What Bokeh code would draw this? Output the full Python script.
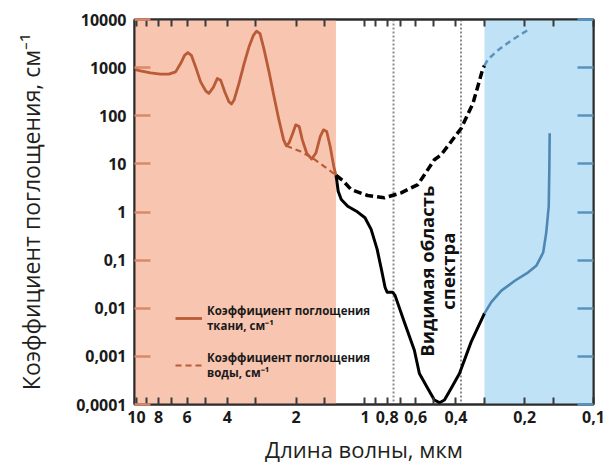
import math
import numpy as np
from bokeh.plotting import figure
from bokeh.models import (Range1d, LogAxis, FixedTicker, BoxAnnotation, Span,
                          Label, Legend, LegendItem)
from bokeh.embed import file_html
from bokeh.resources import INLINE

# ---------------- data (wavelength in µm, absorption coefficient in cm^-1) -------------
TISSUE_WL = [10.1, 9.6, 8.68, 7.85, 7.22, 6.74, 6.41, 6.16, 5.96, 5.75, 5.51, 5.24, 4.98,
             4.82, 4.61, 4.43, 4.28, 4.11, 3.94, 3.84, 3.74, 3.56, 3.38, 3.22, 3.08, 2.98,
             2.88, 2.77, 2.63, 2.50, 2.38, 2.27, 2.21, 2.15, 2.07, 2.01, 1.94, 1.88, 1.80,
             1.71, 1.64, 1.57, 1.52, 1.47, 1.42, 1.37, 1.34,
             1.33, 1.31, 1.27, 1.19, 1.09, 1.0, 0.94, 0.885, 0.845, 0.817, 0.80, 0.756,
             0.738, 0.673, 0.608, 0.578, 0.531, 0.497, 0.472, 0.449, 0.42, 0.386, 0.343,
             0.30, 0.28, 0.253, 0.221, 0.193, 0.178, 0.166, 0.161, 0.157, 0.156, 0.1555]
TISSUE_K = [910, 855, 778, 731, 731, 816, 1214, 1803, 2049, 1803, 1034, 507, 330,
            292, 388, 596, 549, 315, 195, 175, 212, 469, 1214, 2679, 4670, 5730,
            5070, 2480, 816, 248, 81.9, 31.6, 23.8, 27.0, 43.5, 64.6, 59.6, 31.6, 16.8,
            12.6, 16.8, 37.0, 50.9, 47.0, 23.0, 8.9, 5.8,
            4.7, 2.7, 1.82, 1.32, 1.04, 0.76, 0.436, 0.169, 0.060, 0.0273, 0.0215, 0.0215,
            0.0183, 0.00516, 0.00134, 0.00044, 0.000216, 0.000124, 0.000109, 0.000124,
            0.000216, 0.00044, 0.002,
            0.0078, 0.0134, 0.0232, 0.0373, 0.0557, 0.0762, 0.144, 0.373, 1.32, 8.9, 43.5]

WATER_WL = [2.21, 1.91, 1.67, 1.50, 1.34, 1.25, 1.15, 0.973, 0.823, 0.695, 0.587,
            0.497, 0.464, 0.379, 0.337, 0.315, 0.305, 0.30, 0.29, 0.262, 0.229, 0.193]
WATER_K = [23.8, 18.0, 12.6, 8.7, 5.8, 4.5, 2.93, 2.2, 1.97, 2.5, 3.7,
           12.2, 15.5, 55, 181, 550, 958, 1100, 1470, 2290, 3680, 6120]

IR_EDGE = 1.34          # end of the infrared (shaded) band
UV_EDGE = 0.30          # start of the ultraviolet (shaded) band
VISIBLE = [0.75, 0.38]  # visible spectrum borders

X_TICKS = [10, 9, 8, 7, 6, 5, 4, 3, 2, 1.5, 1, 0.9, 0.8, 0.7, 0.6, 0.5, 0.4, 0.3, 0.2, 0.15, 0.1]
X_LABELS = {10: "10", 8: "8", 6: "6", 4: "4", 2: "2", 1: "1", 0.8: "0,8", 0.6: "0,6",
            0.4: "0,4", 0.2: "0,2", 0.1: "0,1"}
Y_TICKS = [1e-4, 1e-3, 1e-2, 1e-1, 1, 10, 100, 1000, 10000]
Y_LABELS = ["0,0001", "0,001", "0,01", "0,1", "1", "10", "100", "1000", "10000"]

# ---------------- styling ----------------
FONT = "Open Sans"
ORANGE_BG = "#F8C5B0"
BLUE_BG = "#BFE2F6"
BROWN = "#B95B36"
STEEL = "#4F87B3"
STEEL_LIGHT = "#5E93C0"
DARK = "#2B2B2B"

p = figure(width=606, height=466, x_axis_type="log", y_axis_type="log",
           x_range=Range1d(10.2, 0.1), y_range=Range1d(1e-4, 1e4),
           output_backend="svg", toolbar_location=None,
           min_border_left=134, min_border_right=13, min_border_top=19, min_border_bottom=61)
p.xgrid.visible = False
p.ygrid.visible = False
p.outline_line_color = DARK
p.outline_line_width = 2
p.background_fill_color = "white"
p.border_fill_color = "white"

bottom_ax = p.below[0]
left_ax = p.left[0]

# shaded bands
p.add_layout(BoxAnnotation(left=10.2, right=IR_EDGE, fill_color=ORANGE_BG, fill_alpha=1,
                           line_alpha=0, level="underlay"))
p.add_layout(BoxAnnotation(left=UV_EDGE, right=0.1, fill_color=BLUE_BG, fill_alpha=1,
                           line_alpha=0, level="underlay"))
for v in VISIBLE:
    p.add_layout(Span(location=v, dimension="height", line_color="#8a8a8a",
                      line_width=2, line_dash="2 2", level="underlay"))

# split curves by band
tw = np.array(TISSUE_WL); tk = np.array(TISSUE_K)
ww = np.array(WATER_WL); wk = np.array(WATER_K)

def parts(wl, k):
    m_ir = wl >= IR_EDGE
    m_vis = (wl <= IR_EDGE) & (wl >= UV_EDGE)
    m_uv = wl <= UV_EDGE
    return (wl[m_ir], k[m_ir]), (wl[m_vis], k[m_vis]), (wl[m_uv], k[m_uv])

(t_ir, t_vis, t_uv) = parts(tw, tk)
(w_ir, w_vis, w_uv) = parts(ww, wk)

r_w_ir = p.line(w_ir[0], w_ir[1], line_color=BROWN, line_width=2.2, line_dash="6 4")
p.line(w_vis[0], w_vis[1], line_color="black", line_width=3.5, line_dash="8 4")
p.line(w_uv[0], w_uv[1], line_color=STEEL_LIGHT, line_width=2.5, line_dash="6 4")

r_t_ir = p.line(t_ir[0], t_ir[1], line_color=BROWN, line_width=2.8, line_join="round")
p.line(t_vis[0], t_vis[1], line_color="black", line_width=3, line_join="round")
p.line(t_uv[0], t_uv[1], line_color=STEEL, line_width=2.6, line_join="round")

# axes
top_ax = LogAxis(ticker=FixedTicker(ticks=X_TICKS, minor_ticks=[]))
right_ax = LogAxis(ticker=FixedTicker(ticks=Y_TICKS, minor_ticks=[]))
p.add_layout(top_ax, "above")
p.add_layout(right_ax, "right")

bottom_ax.ticker = FixedTicker(ticks=X_TICKS, minor_ticks=[])
bottom_ax.major_label_overrides = {t: X_LABELS.get(t, "") for t in X_TICKS}
left_ax.ticker = FixedTicker(ticks=Y_TICKS, minor_ticks=[])
left_ax.major_label_overrides = dict(zip(Y_TICKS, Y_LABELS))

for ax in [bottom_ax, top_ax]:
    ax.major_tick_in = 7
    ax.major_tick_out = 0
    ax.major_tick_line_color = "#3a3a3a"
    ax.major_tick_line_width = 2
for ax in [left_ax, right_ax]:
    ax.major_tick_in = 16
    ax.major_tick_out = 0
    ax.major_tick_line_width = 2.5
left_ax.major_tick_line_color = "#D9896B"
right_ax.major_tick_line_color = "#5B93C0"

for ax in [bottom_ax, left_ax, top_ax, right_ax]:
    ax.minor_tick_line_color = None
    ax.axis_line_color = DARK
    ax.axis_line_width = 2
    ax.major_label_text_font = FONT
    ax.major_label_text_font_style = "bold"
    ax.major_label_text_font_size = "16px"
    ax.major_label_text_color = "#1a1a1a"
for ax in [top_ax, right_ax]:
    ax.major_label_text_font_size = "2px"
    ax.major_label_text_color = None
    ax.major_label_standoff = 0

bottom_ax.major_label_standoff = 6
left_ax.major_label_standoff = 8

bottom_ax.axis_label = "Длина волны, мкм"
left_ax.axis_label = "Коэффициент поглощения, см⁻¹"
for ax in [bottom_ax, left_ax]:
    ax.axis_label_text_font = FONT
    ax.axis_label_text_font_style = "normal"
    ax.axis_label_text_color = "#231F20"
bottom_ax.axis_label_text_font_size = "22px"
left_ax.axis_label_text_font_size = "23px"
bottom_ax.axis_label_standoff = 8
left_ax.axis_label_standoff = 26

# vertical "visible spectrum" caption
for txt, xv in [("Видимая область", 0.54), ("спектра", 0.435)]:
    p.add_layout(Label(x=xv, y=0.059, text=txt, angle=math.pi / 2,
                       text_align="center", text_baseline="middle",
                       text_font=FONT, text_font_style="bold", text_font_size="18.5px",
                       text_color="#111111"))

legend = Legend(items=[
    LegendItem(label="Коэффициент поглощения\nткани, см⁻¹", renderers=[r_t_ir]),
    LegendItem(label="Коэффициент поглощения\nводы, см⁻¹", renderers=[r_w_ir]),
], location=(41, 24), orientation="vertical", background_fill_alpha=0,
    border_line_alpha=0, padding=0, margin=0, spacing=17, glyph_width=27,
    glyph_height=28, label_height=28, label_standoff=5,
    label_text_font=FONT, label_text_font_style="bold", label_text_font_size="11.5px",
    label_text_color="#1a1a1a", label_text_line_height=1.15)
p.add_layout(legend)

open("out.html", "w").write(file_html(p, INLINE))
